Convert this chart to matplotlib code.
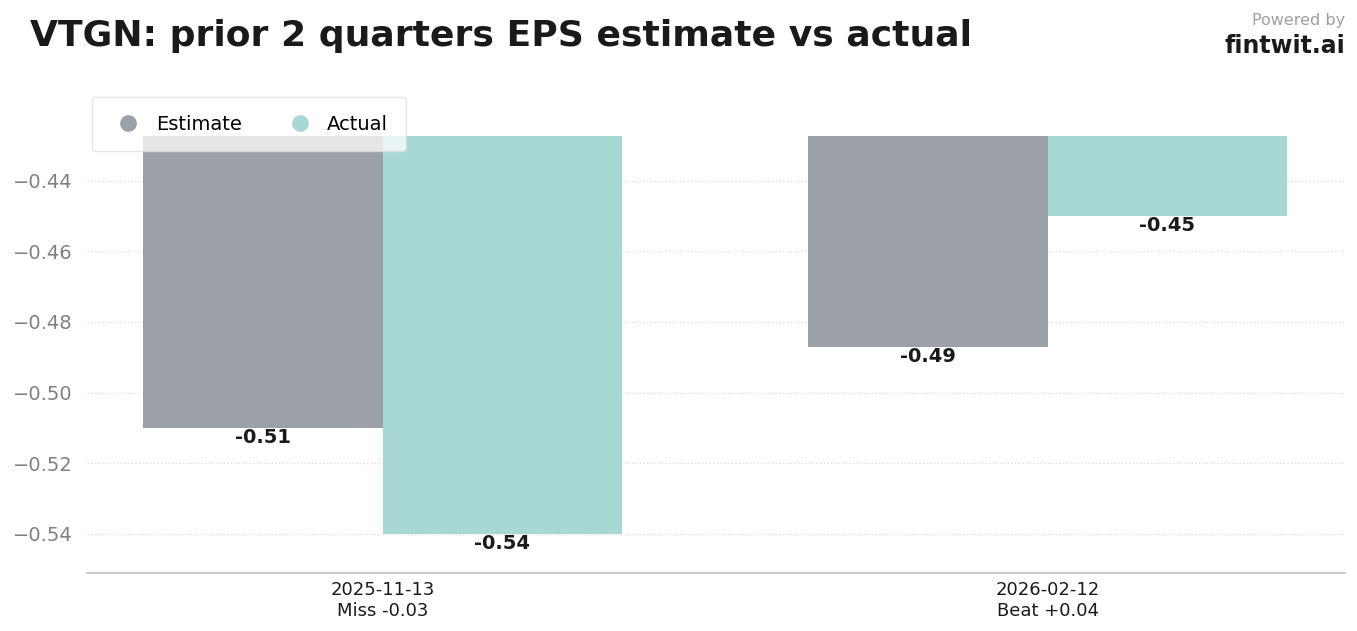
import numpy as np
import matplotlib.pyplot as plt
from matplotlib.lines import Line2D

dates = ['2025-11-13', '2026-02-12']
outcomes = ['Miss -0.03', 'Beat +0.04']
estimate = [-0.51, -0.487]
actual = [-0.54, -0.45]
est_labels = ['-0.51', '-0.49']
act_labels = ['-0.54', '-0.45']

c_est = '#9ca0a8'
c_act = '#a7d8d4'

fig = plt.figure(figsize=(13.57, 6.31), dpi=100)
ax = fig.add_axes([0.064, 0.092, 0.927, 0.693])

x = np.arange(len(dates))
w = 0.36
b1 = ax.bar(x - w / 2, estimate, w, color=c_est, zorder=2)
b2 = ax.bar(x + w / 2, actual, w, color=c_act, zorder=2)

for bars, labs in [(b1, est_labels), (b2, act_labels)]:
    for r, lab in zip(bars, labs):
        ax.annotate(lab, (r.get_x() + r.get_width() / 2, r.get_height()),
                    xytext=(0, 0), textcoords='offset points',
                    ha='center', va='top', fontsize=14, fontweight='bold',
                    color='#1a1a1a')

ax.set_ylim(-0.55105, -0.42725)
ax.set_xlim(-0.445, 1.447)
ax.set_yticks([-0.54, -0.52, -0.50, -0.48, -0.46, -0.44])
ax.set_xticks(x)
ax.set_xticklabels([d + '\n' + o for d, o in zip(dates, outcomes)],
                   fontsize=13, color='#1a1a1a')
ax.tick_params(axis='y', labelsize=14, labelcolor='#808080', length=0, pad=10.5)
ax.tick_params(axis='x', length=0, pad=6)
ax.grid(axis='y', linestyle=':', color='#dddddd', linewidth=1, zorder=0)
for s in ['top', 'right', 'left']:
    ax.spines[s].set_visible(False)
ax.spines['bottom'].set_color('#c0c0c0')
ax.spines['bottom'].set_linewidth(1.2)

handles = [Line2D([], [], marker='o', linestyle='', markersize=11,
                  color=c_est, label='Estimate'),
           Line2D([], [], marker='o', linestyle='', markersize=11,
                  color=c_act, label='Actual')]
leg = ax.legend(handles=handles, loc='upper left', ncol=2, fontsize=14,
                frameon=True, bbox_to_anchor=(-0.004, 1.11), borderpad=0.9,
                columnspacing=2.0, handletextpad=0.4, fancybox=True)
leg.get_frame().set_edgecolor('#dddddd')
leg.get_frame().set_alpha(0.75)

fig.text(0.022, 0.943, 'VTGN: prior 2 quarters EPS estimate vs actual',
         fontsize=26, fontweight='bold', color='#1a1a1a', va='center')
fig.text(0.991, 0.968, 'Powered by', fontsize=11.5, color='#9a9ea6',
         ha='right', va='center')
fig.text(0.991, 0.927, 'fintwit.ai', fontsize=17, fontweight='bold',
         color='#1a1a1a', ha='right', va='center')

fig.savefig('out.png', dpi=100)
